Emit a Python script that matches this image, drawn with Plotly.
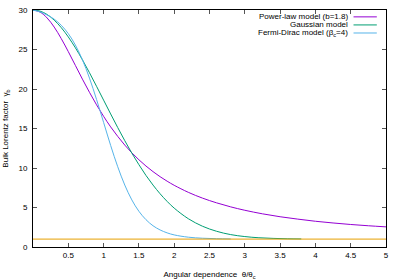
import plotly.graph_objects as go

# angular dependence theta/theta_c
x_vals = [0, 0.1, 0.2, 0.3, 0.4, 0.5, 0.6, 0.7, 0.8, 0.9, 1.0, 1.1, 1.2, 1.3, 1.4,
          1.5, 1.6, 1.7, 1.8, 1.9, 2.0, 2.2, 2.4, 2.6, 2.8, 3.0, 3.25, 3.5, 3.75,
          4.0, 4.25, 4.5, 4.75, 5.0]
power_law = [30, 29.74, 28.99, 27.84, 26.38, 24.73, 22.99, 21.25, 19.58, 18.00, 16.54,
             15.20, 14.00, 12.90, 11.92, 11.04, 10.25, 9.54, 8.90, 8.33, 7.81, 6.92,
             6.19, 5.59, 5.08, 4.65, 4.20, 3.83, 3.53, 3.26, 3.04, 2.85, 2.69, 2.55]

x_gauss = [0, 0.1, 0.2, 0.3, 0.4, 0.5, 0.6, 0.7, 0.8, 0.9, 1.0, 1.1, 1.2, 1.3, 1.4,
           1.5, 1.6, 1.7, 1.8, 1.9, 2.0, 2.2, 2.4, 2.6, 2.8, 3.0, 3.2, 3.4, 3.6, 3.8]
gaussian = [30, 29.86, 29.43, 28.72, 27.77, 26.59, 25.22, 23.70, 22.06, 20.34, 18.59,
            16.84, 15.12, 13.46, 11.88, 10.42, 9.06, 7.84, 6.74, 5.77, 4.92, 3.58,
            2.63, 1.99, 1.57, 1.32, 1.17, 1.09, 1.04, 1.02]

x_fd = [0, 0.1, 0.2, 0.3, 0.4, 0.5, 0.6, 0.7, 0.8, 0.9, 1.0, 1.1, 1.2, 1.3, 1.4,
        1.5, 1.6, 1.7, 1.8, 1.9, 2.0, 2.2, 2.4, 2.6, 2.8]
fermi_dirac = [30, 29.75, 29.37, 28.84, 28.07, 27.01, 25.57, 23.70, 21.38, 18.68, 15.77,
               12.85, 10.16, 7.84, 5.96, 4.52, 3.46, 2.69, 2.16, 1.79, 1.53, 1.24,
               1.11, 1.05, 1.02]

x_floor = [0, 5]
floor = [1, 1]

legend_labels = ["Power-law model (b=1.8)", "Gaussian model",
                 "Fermi-Dirac model (β<sub>c</sub>=4)"]
colors = ["#9400d3", "#009e73", "#56b4e9"]

x_ticks = [0.5, 1, 1.5, 2, 2.5, 3, 3.5, 4, 4.5, 5]
y_ticks = [0, 5, 10, 15, 20, 25, 30]

FONT = "Liberation Sans, Arial, sans-serif"

fig = go.Figure()
for xs, ys, c in [(x_vals, power_law, colors[0]), (x_gauss, gaussian, colors[1]),
                  (x_fd, fermi_dirac, colors[2])]:
    fig.add_trace(go.Scatter(x=xs, y=ys, mode="lines", line=dict(color=c, width=1, shape="spline"),
                             showlegend=False))
fig.add_trace(go.Scatter(x=x_floor, y=floor, mode="lines",
                         line=dict(color="#e69f00", width=1), showlegend=False))

axis_common = dict(showline=True, linecolor="black", linewidth=1, mirror="ticks",
                   ticks="inside", ticklen=4, tickcolor="#555", tickwidth=1,
                   showgrid=False, zeroline=False, automargin=False,
                   tickfont=dict(family=FONT, size=8, color="black"))

fig.update_xaxes(range=[0, 5], tickvals=x_ticks, ticktext=[str(t) for t in x_ticks],
                 title=dict(text="Angular dependence  θ/θ<sub>c</sub>",
                            font=dict(family=FONT, size=8, color="black"), standoff=13),
                 **axis_common)
fig.update_yaxes(range=[0, 30], tickvals=y_ticks, ticklabelstandoff=3,
                 title=dict(text="Bulk Lorentz factor  γ<sub>b</sub>",
                            font=dict(family=FONT, size=8, color="black"), standoff=8),
                 **axis_common)

# legend drawn as text + line samples (gnuplot style)
rows = [0.971, 0.937, 0.903]
for lab, c, yy in zip(legend_labels, colors, rows):
    fig.add_annotation(x=0.898, y=yy, xref="paper", yref="paper", text=lab,
                       showarrow=False, xanchor="right", yanchor="middle",
                       font=dict(family=FONT, size=8, color="black"))
    fig.add_shape(type="line", xref="paper", yref="paper", x0=0.908, x1=0.974,
                  y0=yy, y1=yy, line=dict(color=c, width=1))

fig.update_layout(width=400, height=280, margin=dict(l=33, r=14, t=10, b=33),
                  plot_bgcolor="white", paper_bgcolor="white",
                  font=dict(family=FONT, size=8, color="black"))

fig.write_html("out.html", config={"displayModeBar": False},
               post_script="document.body.style.margin='0';")
